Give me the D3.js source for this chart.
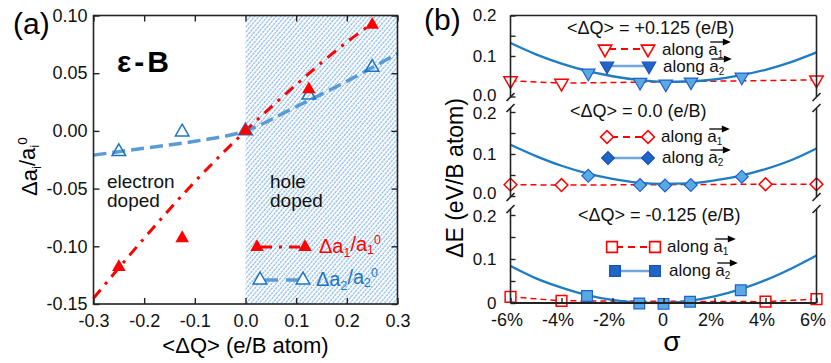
<!DOCTYPE html>
<html>
<head>
<meta charset="utf-8">
<script src="https://cdn.jsdelivr.net/npm/d3@7"></script>
<style>
  body { margin: 0; background: #fff; }
  svg { display: block; font-family: "Liberation Sans", Arial, sans-serif; }
</style>
</head>
<body>
<svg id="chart" width="831" height="363"></svg>
<script>
// ---------- panel (a) data: lattice change vs doping ----------
var dQ = [-0.25, -0.125, 0, 0.125, 0.25];
var da1 = [-0.118, -0.093, 0, 0.036, 0.092];
var da2 = [-0.018, -0.001, 0, 0.031, 0.055];
// fitted guide lines
var fit1Q = [-0.3, -0.2, -0.1, 0, 0.1, 0.2, 0.25];
var fit1 = [-0.145, -0.093, -0.044, 0, 0.040, 0.077, 0.093];
var fit2Q = [-0.3, -0.2, -0.1, 0, 0.1, 0.2, 0.3];
var fit2 = [-0.021, -0.015, -0.009, 0, 0.021, 0.043, 0.067];
var xTicksA = [-0.3, -0.2, -0.1, 0, 0.1, 0.2, 0.3];
var yTicksA = [-0.15, -0.10, -0.05, 0, 0.05, 0.10];

// ---------- panel (b) data: energy vs strain ----------
var sigTicks = [-6, -4, -2, 0, 2, 4, 6];
var fitSig = [-6, -5, -4, -3, -2, -1, 0, 1, 2, 3, 4, 5, 6];
var titlesB = ['<ΔQ> = +0.125 (e/B)', '<ΔQ> = 0.0 (e/B)', '<ΔQ> = -0.125 (e/B)'];
// <dQ> = +0.125
var pA1X = [-6, -4, 6], pA1 = [0.039, 0.033, 0.041];
var pA2X = [-2.95, -0.92, 0.09, 1.08, 3.07], pA2 = [0.058, 0.035, 0.031, 0.036, 0.048];
var pFit = [0.132, 0.104, 0.081, 0.063, 0.050, 0.041, 0.036, 0.037, 0.042, 0.052, 0.066, 0.085, 0.109];
// <dQ> = 0.0
var zA1X = [-6, -4, 4, 6], zA1 = [0.027, 0.026, 0.028, 0.028];
var zA2X = [-2.95, -0.92, 0.06, 1.07, 3.07], zA2 = [0.048, 0.026, 0.025, 0.026, 0.046];
var zFit = [0.122, 0.095, 0.072, 0.054, 0.041, 0.032, 0.029, 0.030, 0.037, 0.048, 0.064, 0.085, 0.113];
// <dQ> = -0.125
var nA1X = [-6, -4, 4, 6], nA1 = [0.014, 0.005, 0.003, 0.009];
var nA2X = [-3.0, -0.95, 0.0, 1.04, 3.03], nA2 = [0.016, -0.001, -0.002, 0.003, 0.029];
var nFit = [0.084, 0.056, 0.035, 0.018, 0.007, 0.001, 0.000, 0.005, 0.015, 0.031, 0.052, 0.078, 0.108];

var RED = '#ff0000', BLUE_LINE = '#5b9bd5', BLUE_DARK = '#1f74c0';

var svg = d3.select('#chart');

// ================= panel (a) =================
var xA = d3.scaleLinear().domain([-0.3, 0.3]).range([93.5, 397.5]);
var yA = d3.scaleLinear().domain([-0.15, 0.10]).range([304, 15.5]);

// hatch for the hole doped side
var defs = svg.append('defs');
var pat = defs.append('pattern').attr('id', 'hatch').attr('patternUnits', 'userSpaceOnUse')
  .attr('width', 3.3).attr('height', 3.3).attr('patternTransform', 'rotate(40)');
pat.append('line').attr('x1', 1).attr('y1', 0).attr('x2', 1).attr('y2', 3.3)
  .attr('stroke', '#7fb2e5').attr('stroke-width', 1.1).attr('stroke-dasharray', '1.6,0.7');

var gA = svg.append('g');
gA.append('rect')
  .attr('x', xA(0)).attr('y', yA(0.10))
  .attr('width', xA(0.3) - xA(0)).attr('height', yA(-0.15) - yA(0.10))
  .attr('fill', 'url(#hatch)');

// axes (ticks point inward on all four sides)
var fmt1 = function (d) { return d.toFixed(1); };
var fmt2 = function (d) { return d.toFixed(2); };
function styleAxis(g) {
  g.select('.domain').remove();
  g.selectAll('.tick line').attr('stroke', '#222').attr('stroke-width', 1.4);
  g.selectAll('.tick text').attr('fill', '#111').attr('font-size', 18)
    .attr('font-family', '"Liberation Sans", Arial, sans-serif');
}
gA.append('g').attr('transform', 'translate(0,' + yA(-0.15) + ')')
  .call(d3.axisBottom(xA).tickValues(xTicksA).tickSize(-6).tickPadding(10).tickFormat(fmt1)).call(styleAxis);
gA.append('g').attr('transform', 'translate(0,' + yA(0.10) + ')')
  .call(d3.axisTop(xA).tickValues(xTicksA).tickSize(-6).tickFormat('')).call(styleAxis);
gA.append('g').attr('transform', 'translate(' + xA(-0.3) + ',0)')
  .call(d3.axisLeft(yA).tickValues(yTicksA).tickSize(-6).tickPadding(6).tickFormat(fmt2)).call(styleAxis);
gA.append('g').attr('transform', 'translate(' + xA(0.3) + ',0)')
  .call(d3.axisRight(yA).tickValues(yTicksA).tickSize(-6).tickFormat('')).call(styleAxis);

// guide lines
var lineA = d3.line().x(function (d) { return xA(d[0]); }).y(function (d) { return yA(d[1]); })
  .curve(d3.curveMonotoneX);
gA.append('path').datum(d3.zip(fit2Q, fit2)).attr('d', lineA)
  .attr('fill', 'none').attr('stroke', BLUE_LINE).attr('stroke-width', 3.5).attr('stroke-dasharray', '13,6');
gA.append('path').datum(d3.zip(fit1Q, fit1)).attr('d', lineA)
  .attr('fill', 'none').attr('stroke', RED).attr('stroke-width', 3).attr('stroke-dasharray', '11,7,3,7');

var triUp = d3.symbol(d3.symbolTriangle, 80);
gA.selectAll('.a2').data(d3.zip(dQ, da2)).enter().append('path')
  .attr('d', triUp).attr('transform', function (d) { return 'translate(' + xA(d[0]) + ',' + yA(d[1]) + ')'; })
  .attr('fill', 'none').attr('stroke', BLUE_DARK).attr('stroke-width', 1.5);
gA.selectAll('.a1').data(d3.zip(dQ, da1)).enter().append('path')
  .attr('d', triUp).attr('transform', function (d) { return 'translate(' + xA(d[0]) + ',' + yA(d[1]) + ')'; })
  .attr('fill', RED);

// frame
gA.append('rect').attr('x', xA(-0.3)).attr('y', yA(0.10))
  .attr('width', xA(0.3) - xA(-0.3)).attr('height', yA(-0.15) - yA(0.10))
  .attr('fill', 'none').attr('stroke', '#222').attr('stroke-width', 1.6);

// texts
svg.append('text').attr('x', 13).attr('y', 34).attr('font-size', 30).text('(a)');
svg.append('text').attr('x', 117).attr('y', 72).attr('font-size', 30).attr('font-weight', 'bold')
  .attr('letter-spacing', 3).text('ε-B');
[['electron', 107, 188], ['doped', 107, 207], ['hole', 270, 188], ['doped', 270, 207]].forEach(function (t) {
  svg.append('text').attr('x', t[1]).attr('y', t[2]).attr('font-size', 19).attr('fill', '#111').text(t[0]);
});
svg.append('text').attr('x', xA(0)).attr('y', 353).attr('text-anchor', 'middle').attr('font-size', 22)
  .text('<ΔQ> (e/B atom)');

function ratioLabel(sel, sub) {
  sel.append('tspan').text('Δa');
  sel.append('tspan').attr('font-size', '0.62em').attr('dy', '0.3em').text(sub);
  sel.append('tspan').attr('dy', '-0.3em').text('/a');
  sel.append('tspan').attr('font-size', '0.62em').attr('dy', '0.3em').text(sub);
  sel.append('tspan').attr('font-size', '0.62em').attr('dy', '-0.85em').text('0');
}
var yLabA = svg.append('text').attr('font-size', 22)
  .attr('transform', 'translate(37,196) rotate(-90)');
ratioLabel(yLabA, 'i');
// keep the rotated label between y = 137 and 196, whatever the glyph metrics
(function () {
  var r = yLabA.node().getBoundingClientRect();
  var s = svg.node().getBoundingClientRect();
  var shift = 196 - (r.bottom - s.top);
  yLabA.attr('transform', 'translate(37,' + (196 + shift) + ') rotate(-90)');
})();

// legend (a)
var legA = svg.append('g');
legA.append('line').attr('x1', 257).attr('x2', 305).attr('y1', 247).attr('y2', 247)
  .attr('stroke', RED).attr('stroke-width', 3).attr('stroke-dasharray', '11,7,3,7').attr('stroke-dashoffset', -4);
[257, 305].forEach(function (x) {
  legA.append('path').attr('d', triUp).attr('transform', 'translate(' + x + ',247)').attr('fill', RED);
});
ratioLabel(legA.append('text').attr('x', 319).attr('y', 253).attr('font-size', 20).attr('fill', RED), '1');
legA.append('line').attr('x1', 262).attr('x2', 302).attr('y1', 280).attr('y2', 280)
  .attr('stroke', BLUE_LINE).attr('stroke-width', 3.5).attr('stroke-dasharray', '13,8').attr('stroke-dashoffset', -3);
[260, 303].forEach(function (x) {
  legA.append('path').attr('d', triUp).attr('transform', 'translate(' + x + ',280)')
    .attr('fill', '#fff').attr('stroke', BLUE_DARK).attr('stroke-width', 1.5);
});
ratioLabel(legA.append('text').attr('x', 316).attr('y', 286).attr('font-size', 20).attr('fill', BLUE_DARK), '2');

// ================= panel (b) =================
var xB = d3.scaleLinear().domain([-6, 6]).range([510.5, 816.5]);
var panelsB = [
  { a1x: pA1X, a1: pA1, a2x: pA2X, a2: pA2, fit: pFit, sym: 'tri', zero: '0.0', zdy: -1,
    y0: 96.5, y2: 15.5, axTop: 15.5, axBot: 97, tx: 567, ty: 34,
    leg: [[605, 648, 662, 49, 55], [607, 649, 663, 66, 72]] },
  { a1x: zA1X, a1: zA1, a2x: zA2X, a2: zA2, fit: zFit, sym: 'dia', zero: '0.0', zdy: -3,
    y0: 196, y2: 112, axTop: 108, axBot: 197, tx: 570, ty: 117,
    leg: [[607, 648, 661, 137, 142], [608, 648, 662, 158, 163]] },
  { a1x: nA1X, a1: nA1, a2x: nA2X, a2: nA2, fit: nFit, sym: 'sq', zero: '0', zdy: 0,
    y0: 303, y2: 215, axTop: 209, axBot: 303, tx: 578, ty: 221,
    leg: [[612, 655, 667, 247, 252], [615, 655, 669, 271, 276]] }
];

var symGen = {
  tri: { d: d3.symbol(d3.symbolTriangle, 78)(), rot: 180 },
  dia: { d: d3.symbol(d3.symbolSquare, 82)(), rot: 45 },
  sq: { d: d3.symbol(d3.symbolSquare, 115)(), rot: 0 }
};
function placeSym(sel, kind, x, y) {
  return sel.append('path').attr('d', symGen[kind].d)
    .attr('transform', 'translate(' + x + ',' + y + ') rotate(' + symGen[kind].rot + ')');
}

function alongLabel(g, x, y, sub) {
  var t = g.append('text').attr('x', x).attr('y', y).attr('font-size', 17).attr('fill', '#111');
  var t1 = t.append('tspan').text('along ');
  var t2 = t.append('tspan').text('a');
  t.append('tspan').attr('font-size', 10).attr('dy', 3).text(sub);
  var ax = x + t1.node().getComputedTextLength();
  var aw = t2.node().getComputedTextLength();
  var ay = y - 13;
  g.append('line').attr('x1', ax + 2).attr('x2', ax + aw + 6).attr('y1', ay).attr('y2', ay)
    .attr('stroke', '#000').attr('stroke-width', 1.3);
  g.append('path').attr('d', 'M' + (ax + aw + 13) + ',' + ay + 'L' + (ax + aw + 5) + ',' + (ay - 3.5) +
    'L' + (ax + aw + 5) + ',' + (ay + 3.5) + 'Z').attr('fill', '#000');
}

panelsB.forEach(function (p, i) {
  var y = d3.scaleLinear().domain([0, 0.2]).range([p.y0, p.y2]);
  var g = svg.append('g');
  var zero = p.zero;

  g.append('g').attr('transform', 'translate(' + xB(-6) + ',0)')
    .call(d3.axisLeft(y).tickValues([0, 0.05, 0.1, 0.15, 0.2]).tickSize(-5).tickPadding(14)
      .tickFormat(function (d) { return d === 0 ? zero : (d === 0.1 ? '0.1' : (d === 0.2 ? '0.2' : '')); }))
    .call(styleAxis)
    .call(function (ax) {
      ax.selectAll('.tick text').attr('font-size', 17)
        .attr('transform', function (d) { return d === 0 ? 'translate(0,' + p.zdy + ')' : (d === 0.2 && i > 0 ? 'translate(0,1)' : null); });
    });

  var line = d3.line().x(function (d) { return xB(d[0]); }).y(function (d) { return y(d[1]); });
  g.append('path').datum(d3.zip(p.a1x, p.a1)).attr('d', line)
    .attr('fill', 'none').attr('stroke', RED).attr('stroke-width', 1.5).attr('stroke-dasharray', '6,4');
  p.a1x.forEach(function (s, k) {
    placeSym(g, p.sym, xB(s), y(p.a1[k])).attr('fill', '#fff').attr('stroke', RED).attr('stroke-width', 1.5);
  });
  g.append('path').datum(d3.zip(fitSig, p.fit)).attr('d', line.curve(d3.curveMonotoneX))
    .attr('fill', 'none').attr('stroke', '#1d7cc2').attr('stroke-width', 2.3);
  p.a2x.forEach(function (s, k) {
    placeSym(g, p.sym, xB(s), y(p.a2[k])).attr('fill', '#5aaae2').attr('stroke', '#1f5fd0').attr('stroke-width', 1.2);
  });

  // axis lines with break marks
  [xB(-6), xB(6)].forEach(function (x) {
    g.append('line').attr('x1', x).attr('x2', x).attr('y1', p.axTop).attr('y2', p.axBot)
      .attr('stroke', '#222').attr('stroke-width', 1.6);
    if (i > 0) g.append('line').attr('x1', x - 4).attr('x2', x + 4).attr('y1', p.axTop + 4).attr('y2', p.axTop - 4)
      .attr('stroke', '#222').attr('stroke-width', 1.6);
    if (i < 2) g.append('line').attr('x1', x - 4).attr('x2', x + 4).attr('y1', p.axBot + 4).attr('y2', p.axBot - 4)
      .attr('stroke', '#222').attr('stroke-width', 1.6);
  });

  g.append('text').attr('x', p.tx).attr('y', p.ty).attr('font-size', 18).attr('fill', '#111').text(titlesB[i]);

  // legend
  var r1 = p.leg[0], r2 = p.leg[1];
  g.append('line').attr('x1', r1[0]).attr('x2', r1[1]).attr('y1', r1[3]).attr('y2', r1[3])
    .attr('stroke', RED).attr('stroke-width', 1.8).attr('stroke-dasharray', '7,5').attr('stroke-dashoffset', -4);
  [r1[0], r1[1]].forEach(function (x) {
    placeSym(g, p.sym, x, r1[3]).attr('fill', '#fff').attr('stroke', RED).attr('stroke-width', 1.6);
  });
  alongLabel(g, r1[2], r1[4], '1');
  g.append('line').attr('x1', r2[0]).attr('x2', r2[1]).attr('y1', r2[3]).attr('y2', r2[3])
    .attr('stroke', '#6fa8dc').attr('stroke-width', 2.5);
  [r2[0], r2[1]].forEach(function (x) {
    placeSym(g, p.sym, x, r2[3]).attr('fill', '#1f66c6').attr('stroke', '#1a4fc0').attr('stroke-width', 1.2);
  });
  alongLabel(g, r2[2], r2[4], '2');
});

// frame top & bottom of panel (b), bottom axis
svg.append('line').attr('x1', xB(-6)).attr('x2', xB(6)).attr('y1', 15.5).attr('y2', 15.5)
  .attr('stroke', '#222').attr('stroke-width', 1.6);
svg.append('g').attr('transform', 'translate(0,303)')
  .call(d3.axisBottom(xB).tickValues(sigTicks).tickSize(-5).tickPadding(10)
    .tickFormat(function (d) { return d === 0 ? '0' : d + '%'; }))
  .call(styleAxis)
  .call(function (g) {
    g.selectAll('.tick text').attr('dx', function (d) { return d === 0 ? -1 : -4; });
  });
svg.append('line').attr('x1', xB(-6)).attr('x2', xB(6)).attr('y1', 303).attr('y2', 303)
  .attr('stroke', '#222').attr('stroke-width', 2);

svg.append('text').attr('x', 424).attr('y', 30).attr('font-size', 30).text('(b)');
svg.append('text').attr('text-anchor', 'middle').attr('font-size', 23)
  .attr('transform', 'translate(463,178) rotate(-90)').text('ΔE (eV/B atom)');
svg.append('text').attr('x', 672).attr('y', 351).attr('text-anchor', 'middle').attr('font-size', 28).text('σ');
</script>
</body>
</html>
